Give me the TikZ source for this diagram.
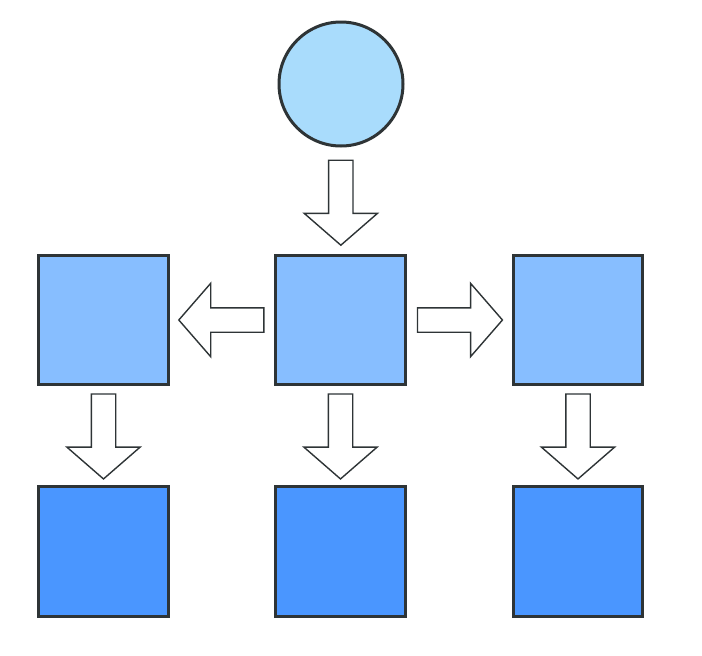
\documentclass[tikz,border=0pt]{standalone}
\usepackage{tikz}
\usetikzlibrary{shapes.arrows,calc}
\definecolor{outline}{HTML}{2E3436}
\definecolor{startfill}{HTML}{A9DCFC}
\definecolor{midfill}{HTML}{87BEFF}
\definecolor{endfill}{HTML}{4A96FF}
\begin{document}
\begin{tikzpicture}[x=1pt,y=-1pt]
        \tikzstyle{every node} = [draw=outline, line width=3pt, inner sep=0pt]
        \tikzstyle{box} = [rectangle, minimum size=129.5pt]
        \tikzstyle{blockarrow} = [single arrow, line width=1.4pt, fill=white,
            minimum height=85pt, inner xsep=0pt, inner ysep=11.5pt,
            single arrow head extend=24.5pt, single arrow tip angle=98, anchor=tail]
        \useasboundingbox (0,0) rectangle (702,656);
        \node[circle, fill=startfill, minimum size=124pt] (top) at (341,84) {};
        \node[box, fill=midfill] (m1) at (103.5,320) {};
        \node[box, fill=midfill] (m2) at (340.5,320) {};
        \node[box, fill=midfill] (m3) at (578,320) {};
        \node[box, fill=endfill] (b1) at (103.5,551.5) {};
        \node[box, fill=endfill] (b2) at (340.5,551.5) {};
        \node[box, fill=endfill] (b3) at (578,551.5) {};
        \foreach \from/\to/\ang in {top/m2/-90, m2/m1/180, m2/m3/0, m1/b1/-90, m2/b2/-90, m3/b3/-90}
            \node[blockarrow, rotate=\ang] (\from\to) at ($(\from)!0.5!(\to)!42.5pt!(\from)$) {};
    \end{tikzpicture}
\end{document}
